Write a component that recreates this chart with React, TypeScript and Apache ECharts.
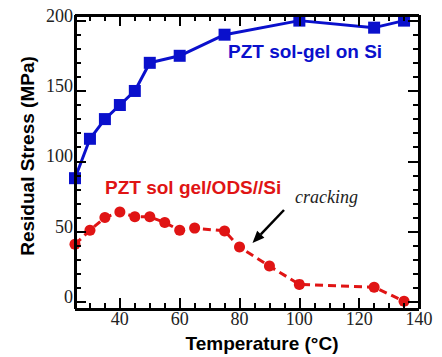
import React, { useEffect, useRef } from "react";
import * as echarts from "echarts";

const blueX = [25, 30, 35, 40, 45, 50, 60, 75, 100, 125, 135];
const blueY = [88, 116, 130, 140, 150, 170, 175, 190, 200, 195, 200];
const redX = [25, 30, 35, 40, 45, 50, 55, 60, 65, 75, 80, 90, 100, 125, 135];
const redY = [41, 51, 60, 64, 60.5, 60.5, 56.5, 51, 52.5, 50.5, 39, 25.5, 12.5, 10.5, 0.5];

const xMajor = [40, 60, 80, 100, 120, 140];
const xMinor = [30, 35, 45, 50, 55, 65, 70, 75, 85, 90, 95, 105, 110, 115, 125, 130, 135];
const yMajor = [0, 50, 100, 150, 200];
const yMinor = [10, 20, 30, 40, 60, 70, 80, 90, 110, 120, 130, 140, 160, 170, 180, 190];

const X_MIN = 25, X_MAX = 140, Y_MIN = -5, Y_MAX = 204;

const BLUE = "#0a10cc";
const RED = "#e01414";
const SERIF = "'Liberation Serif', 'Times New Roman', serif";
const SANS = "'Liberation Sans', Arial, sans-serif";

const W = 442, H = 357;
const GRID = { left: 75, right: 23, top: 15, bottom: 48 };

export default function App() {
  const ref = useRef<HTMLDivElement>(null);
  useEffect(() => {
    if (!ref.current) return;
    const chart = echarts.init(ref.current, undefined, { renderer: "svg" });
    const hidden = {
      axisLine: { show: false, onZero: false },
      axisTick: { show: false },
      axisLabel: { show: false },
      splitLine: { show: false },
    };
    const plotW = W - GRID.left - GRID.right;
    const plotH = H - GRID.top - GRID.bottom;
    const xu = (X_MAX - X_MIN) / plotW; // x units per pixel
    const yu = (Y_MAX - Y_MIN) / plotH; // y units per pixel
    const seg = (a: number[], b: number[], w: number) => [
      { coord: a, lineStyle: { width: w, color: "#000", type: "solid" } },
      { coord: b },
    ];
    const lines: any[] = [];
    const xTick = (v: number, len: number) => {
      lines.push(seg([v, Y_MIN], [v, Y_MIN + len * yu], 2));
      lines.push(seg([v, Y_MAX], [v, Y_MAX - len * yu], 2));
    };
    const yTick = (v: number, len: number) => {
      lines.push(seg([X_MIN, v], [X_MIN + len * xu, v], 2));
      lines.push(seg([X_MAX, v], [X_MAX - len * xu, v], 2));
    };
    xMinor.forEach((v) => xTick(v, 6));
    xMajor.forEach((v) => xTick(v, 11));
    yMinor.forEach((v) => yTick(v, 6));
    yMajor.forEach((v) => yTick(v, 11));
    lines.push(seg([X_MIN, Y_MIN], [X_MAX, Y_MIN], 3));
    lines.push(seg([X_MAX, Y_MIN], [X_MAX, Y_MAX], 3));
    lines.push(seg([X_MAX, Y_MAX], [X_MIN, Y_MAX], 3));
    lines.push(seg([X_MIN, Y_MAX], [X_MIN, Y_MIN], 3));

    chart.setOption({
      animation: false,
      grid: { ...GRID, containLabel: false },
      xAxis: { type: "value", min: X_MIN, max: X_MAX, ...hidden },
      yAxis: { type: "value", min: Y_MIN, max: Y_MAX, ...hidden },
      series: [
        {
          type: "line",
          data: [],
          clip: false,
          silent: true,
          z: 4,
          markLine: {
            silent: true,
            symbol: ["none", "none"],
            label: { show: false },
            lineStyle: { color: "#000", width: 2, type: "solid" },
            data: lines,
          },
        },
        {
          type: "line",
          data: blueX.map((x, i) => [x, blueY[i]]),
          symbol: "rect", symbolSize: 12,
          itemStyle: { color: BLUE },
          lineStyle: { color: BLUE, width: 3 },
          clip: false,
          z: 3,
        },
        {
          type: "line",
          data: redX.map((x, i) => [x, redY[i]]),
          symbol: "circle", symbolSize: 11,
          itemStyle: { color: RED },
          lineStyle: { color: RED, width: 3, type: [8, 5] },
          clip: false,
          z: 3,
        },
      ],
    });

    const px = (v: number) => chart.convertToPixel({ xAxisIndex: 0 }, v) as number;
    const py = (v: number) => chart.convertToPixel({ yAxisIndex: 0 }, v) as number;
    const L = px(X_MIN), B = py(Y_MIN);
    const g: any[] = [];
    xMajor.forEach((v) => {
      g.push({
        type: "text", x: px(v), y: B + 10,
        style: { text: String(v), fill: "#222", font: `18px ${SERIF}`, align: "center", verticalAlign: "middle" },
      });
    });
    yMajor.forEach((v) => {
      g.push({
        type: "text", x: L - 2, y: py(v) - 5,
        style: { text: String(v), fill: "#222", font: `18px ${SERIF}`, align: "right", verticalAlign: "middle" },
      });
    });

    const tail = [284, 210];
    const tip = [252.5, 243];
    const dx = tip[0] - tail[0], dy = tip[1] - tail[1];
    const len = Math.hypot(dx, dy);
    const ux = dx / len, uy = dy / len;
    const hl = 12, hw = 5;
    const bx = tip[0] - ux * hl, by = tip[1] - uy * hl;
    const nx = -uy, ny = ux;
    g.push(
      {
        type: "text", left: 228, top: 42,
        style: { text: "PZT sol-gel on Si", fill: BLUE, font: `bold 19px ${SANS}` },
      },
      {
        type: "text", left: 105, top: 178,
        style: { text: "PZT sol gel/ODS//Si", fill: RED, font: `bold 19px ${SANS}` },
      },
      {
        type: "text", left: 295, top: 188,
        style: { text: "cracking", fill: "#222", font: `italic 18px ${SERIF}` },
      },
      {
        type: "line",
        shape: { x1: tail[0], y1: tail[1], x2: bx, y2: by },
        style: { stroke: "#000", lineWidth: 2.5 },
      },
      {
        type: "polygon",
        shape: { points: [[tip[0], tip[1]], [bx + nx * hw, by + ny * hw], [bx - nx * hw, by - ny * hw]] },
        style: { fill: "#000" },
      },
      {
        type: "text", x: 27, y: 156, rotation: Math.PI / 2,
        style: { text: "Residual Stress (MPa)", fill: "#000", font: `bold 19px ${SANS}`, align: "center", verticalAlign: "middle" },
      },
      {
        type: "text", x: 262, y: 343,
        style: { text: "Temperature (°C)", fill: "#000", font: `bold 19px ${SANS}`, align: "center", verticalAlign: "middle" },
      }
    );
    chart.setOption({ graphic: g });
    return () => chart.dispose();
  }, []);
  return <div ref={ref} style={{ width: W, height: H, position: "absolute", left: 0, top: 0 }} />;
}
